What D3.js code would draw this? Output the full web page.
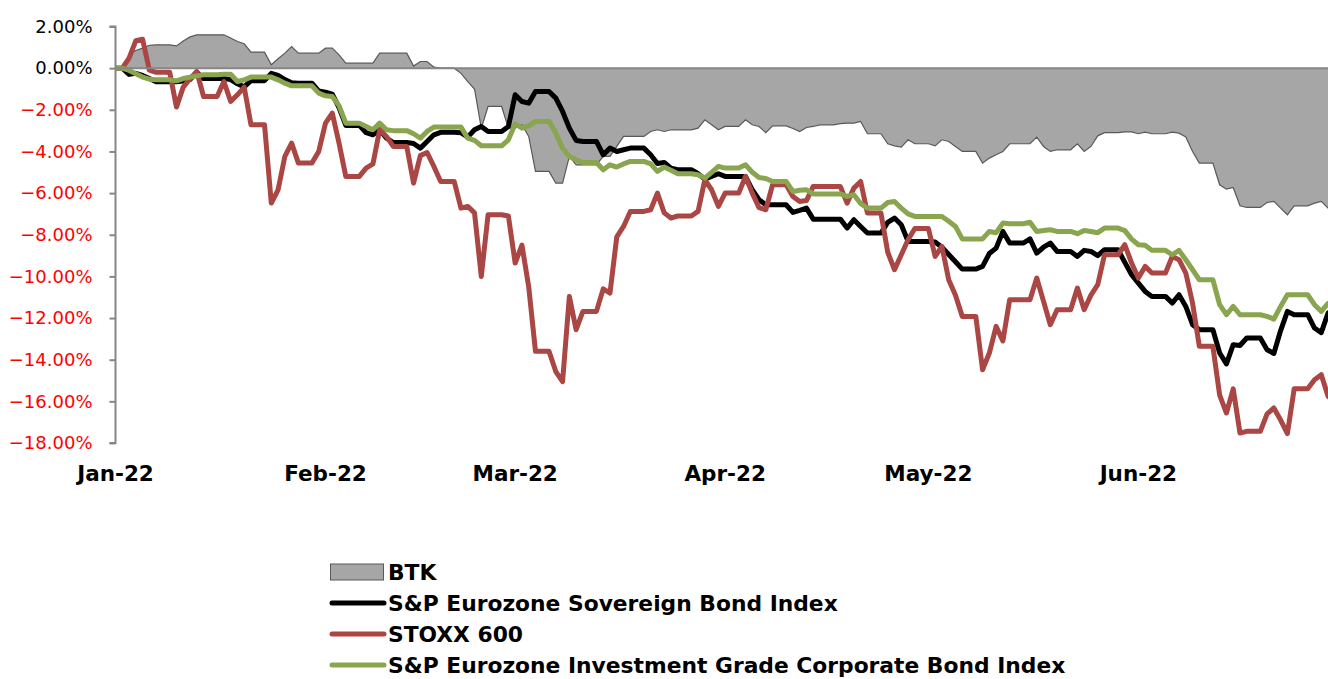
<!DOCTYPE html>
<html>
<head>
<meta charset="utf-8">
<script src="https://cdn.jsdelivr.net/npm/d3@7"></script>
<style>
body { margin: 0; background: #fff; }
svg text { font-family: "DejaVu Sans", sans-serif; }
</style>
</head>
<body>
<svg id="chart" width="1328" height="679"></svg>
<script>

// cumulative returns in %, first value = 31-Dec-2021 base, then one per weekday Jan 3 .. Jun 30
const btk = [0,
  0.64, 0.85, 0.96, 1.1, 1.12, 1.07, 1.3, 1.5, 1.6, 1.6, 1.6, 1.45, 1.28, 1.17, 0.77, 0.16, 0.45, 0.72, 1.04, 0.72, 0.72,
  0.96, 0.96, 0.64, 0.24, 0.24, 0.24, 0.72, 0.72, 0.72, 0.1, 0.32, 0.32, 0.05, 0.0, -0.25, -0.65, -1.0, -2.88, -1.84, -2.88,
  -2.88, -2.72, -3.28, -4.96, -5.52, -5.52, -4.24, -4.64, -4.64, -4.24, -4.24, -3.76, -3.28, -3.28, -3.04, -2.96, -3.04, -2.96, -2.96, -2.88, -2.48, -2.72, -2.96,
  -2.8, -2.48, -2.72, -2.8, -3.1, -2.77, -2.9, -3.04, -2.85, -2.8, -2.72, -2.66, -2.64, -2.64, -2.56, -3.15, -3.63, -3.73, -3.79, -3.44, -3.63,
  -3.73, -3.44, -3.52, -3.76, -4.0, -4.56, -4.32, -4.16, -4.0, -3.63, -3.63, -3.31, -3.76, -4.0, -3.92, -3.63, -4.0, -3.76, -3.25, -3.1, -3.06, -3.06,
  -3.15, -3.07, -3.15, -3.07, -3.12, -3.3, -4.0, -4.56, -5.6, -5.81, -5.73, -6.61, -6.69, -6.45, -6.4, -6.72, -7.04, -6.61, -6.48, -6.4, -6.72, -6.7];

const sovereign = [0,
  -0.3, -0.25, -0.35, -0.5, -0.65, -0.65, -0.62, -0.55, -0.2, -0.5, -0.5, -0.55, -0.75, -0.9, -0.6, -0.25, -0.35, -0.55, -0.7, -0.72, -1.1,
  -1.15, -1.25, -1.9, -2.75, -3.1, -3.2, -2.96, -3.36, -3.57, -3.62, -3.84, -3.52, -3.2, -3.08, -3.1, -3.31, -2.96, -2.8, -3.04, -2.8,
  -1.28, -1.6, -1.68, -1.12, -1.44, -2.08, -2.88, -3.47, -3.52, -4.16, -3.84, -4.0, -3.92, -3.84, -4.16, -4.58, -4.53, -4.8, -4.88, -5.07, -5.33, -5.2, -5.07,
  -5.2, -5.2, -5.84, -6.32, -6.56, -6.56, -6.93, -6.83, -6.72, -7.25, -7.25, -7.25, -7.68, -7.28, -7.6, -7.92, -7.41, -7.2, -7.52, -8.32, -8.32,
  -8.35, -8.6, -8.95, -9.3, -9.65, -9.52, -8.9, -8.64, -7.84, -8.4, -8.2, -8.88, -8.6, -8.4, -8.8, -9.04, -8.75, -8.8, -9.0, -8.72, -9.33, -9.92,
  -10.32, -10.72, -10.96, -11.28, -10.88, -11.44, -12.32, -12.56, -13.68, -14.2, -13.28, -13.32, -12.96, -13.52, -13.7, -12.6, -11.68, -11.84, -12.48, -12.7, -11.76, -11.5];

const stoxx = [0,
  0.48, 1.32, 1.39, -0.1, -0.2, -1.87, -0.91, -0.51, -0.16, -1.36, -0.64, -1.6, -1.28, -0.91, -2.72, -6.48, -5.84, -4.24, -3.6, -4.56, -4.0,
  -2.64, -2.16, -3.6, -5.2, -4.8, -4.6, -2.96, -3.28, -3.76, -5.52, -4.2, -4.05, -4.72, -5.44, -6.72, -6.64, -6.95, -10.0, -7.04, -7.1,
  -9.36, -8.5, -10.5, -13.6, -14.57, -15.05, -10.96, -12.56, -11.68, -10.6, -10.8, -8.1, -7.6, -6.88, -6.8, -6.0, -6.95, -7.2, -7.1, -6.88, -5.36, -5.84, -6.64,
  -6.0, -5.2, -6.0, -6.7, -6.8, -5.6, -6.16, -6.4, -6.36, -5.68, -5.68, -5.68, -6.48, -5.76, -5.44, -6.96, -8.84, -9.68, -8.96, -8.24, -7.7,
  -9.04, -8.56, -10.16, -10.9, -11.92, -14.48, -13.68, -12.4, -13.1, -11.12, -11.12, -10.08, -11.2, -12.32, -11.6, -10.56, -11.6, -10.9, -10.4, -8.96, -8.48, -9.36,
  -10.08, -9.52, -9.84, -9.04, -9.2, -9.84, -11.28, -13.36, -15.7, -16.56, -15.4, -17.52, -17.44, -16.6, -16.32, -16.9, -17.55, -15.4, -14.96, -14.72, -15.76, -16.0];

const corporate = [0,
  -0.11, -0.27, -0.43, -0.53, -0.56, -0.61, -0.5, -0.43, -0.37, -0.32, -0.29, -0.29, -0.64, -0.56, -0.43, -0.43, -0.56, -0.72, -0.85, -0.85, -1.2,
  -1.33, -1.36, -1.8, -2.64, -2.8, -2.96, -2.64, -2.96, -3.0, -3.15, -3.36, -3.04, -2.83, -2.83, -2.83, -3.36, -3.47, -3.73, -3.73, -3.44,
  -2.67, -2.88, -2.77, -2.56, -3.12, -3.84, -4.24, -4.4, -4.53, -4.88, -4.64, -4.75, -4.6, -4.48, -4.6, -4.96, -4.75, -4.9, -5.07, -5.12, -5.28, -5.0, -4.72,
  -4.8, -4.64, -5.0, -5.25, -5.3, -5.44, -5.92, -5.86, -5.84, -6.04, -6.04, -6.04, -6.16, -6.08, -6.5, -6.72, -6.45, -6.4, -6.72, -7.0, -7.12,
  -7.12, -7.12, -7.35, -7.6, -8.2, -8.2, -7.84, -7.9, -7.44, -7.47, -7.4, -7.84, -7.8, -7.76, -7.84, -7.95, -7.8, -7.84, -7.9, -7.68, -7.8, -8.21,
  -8.48, -8.5, -8.75, -8.96, -8.75, -9.2, -9.68, -10.16, -11.36, -11.84, -11.44, -11.84, -11.84, -11.92, -12.05, -11.44, -10.88, -10.88, -11.36, -11.68, -11.3, -11.2];

const yTicks = [2, 0, -2, -4, -6, -8, -10, -12, -14, -16, -18];
const monthTicks = [0, 1, 2, 3, 4, 5].map(m => new Date(2022, m, 1));

const legendItems = [
  {name: "BTK", type: "area"},
  {name: "S&P Eurozone Sovereign Bond Index", type: "line", color: "#000000"},
  {name: "STOXX 600", type: "line", color: "#aa4643"},
  {name: "S&P Eurozone Investment Grade Corporate Bond Index", type: "line", color: "#89a54e"}
];

// trading days: the base day, then every weekday
let dates = [new Date(2021, 11, 31)];
for (let d = new Date(2022, 0, 3); d <= new Date(2022, 5, 30); d.setDate(d.getDate() + 1)) {
  if (d.getDay() != 0 && d.getDay() != 6) dates.push(new Date(d));
}

// the source series are calendar daily, weekends keep friday's close
function toPoints(values) {
  let pts = [];
  values.forEach((v, i) => {
    pts.push({date: dates[i], v: v});
    let next = dates[i + 1];
    if (next) {
      let dayBefore = d3.timeDay.offset(next, -1);
      if (dayBefore > dates[i]) pts.push({date: dayBefore, v: v});
    }
  });
  return pts;
}

const svg = d3.select('#chart');

const x = d3.scaleTime()
  .domain([new Date(2022, 0, 1), new Date(2022, 6, 1)])
  .range([115.5, 115.5 + 181 * 6.774]);

const y = d3.scaleLinear()
  .domain([-18, 2])
  .range([443, 26.5]);

svg.append('clipPath').attr('id', 'plotClip')
  .append('rect')
  .attr('x', x.range()[0]).attr('y', 0)
  .attr('width', 1328 - x.range()[0]).attr('height', 679);

const plot = svg.append('g').attr('clip-path', 'url(#plotClip)');

// BTK as a shaded area
let btkPts = toPoints(btk);
plot.append('path')
  .datum(btkPts)
  .attr('fill', '#a6a6a6')
  .attr('d', d3.area().x(d => x(d.date)).y0(y(0)).y1(d => y(d.v)));
plot.append('path')
  .datum(btkPts)
  .attr('fill', 'none')
  .attr('stroke', '#595959')
  .attr('stroke-width', 1.2)
  .attr('d', d3.line().x(d => x(d.date)).y(d => y(d.v)));

// y axis on the left, zero line across
const yAxis = svg.append('g')
  .attr('transform', `translate(${x.range()[0]},0)`)
  .call(d3.axisLeft(y).tickValues(yTicks).tickSize(6).tickPadding(17)
    .tickFormat(d => d3.format('.2f')(d) + '%'));
yAxis.select('.domain').attr('stroke', '#868686').attr('stroke-width', 2)
  .attr('d', `M-6,${y(2)}H0V${y(-18)}H-6`);
yAxis.selectAll('.tick line').attr('stroke', '#868686').attr('stroke-width', 2);
yAxis.selectAll('.tick text')
  .attr('font-size', 18)
  .attr('font-family', '"DejaVu Sans Condensed", "DejaVu Sans", sans-serif')
  .attr('fill', d => d < 0 ? '#ff0000' : '#000000');

svg.append('line')
  .attr('x1', x.range()[0]).attr('x2', 1328)
  .attr('y1', y(0)).attr('y2', y(0))
  .attr('stroke', '#868686').attr('stroke-width', 2);

// month labels along the bottom
svg.append('g').selectAll('text')
  .data(monthTicks)
  .join('text')
  .attr('x', d => x(d))
  .attr('y', 481)
  .attr('text-anchor', 'middle')
  .attr('font-size', 21.5)
  .attr('font-weight', 'bold')
  .text(d => d3.timeFormat('%b-%y')(d));

// the three lines
const line = d3.line().x(d => x(d.date)).y(d => y(d.v));
const lineSeries = [
  {values: sovereign, color: '#000000'},
  {values: stoxx, color: '#aa4643'},
  {values: corporate, color: '#89a54e'}
];
plot.selectAll('path.series')
  .data(lineSeries)
  .join('path')
  .attr('class', 'series')
  .attr('fill', 'none')
  .attr('stroke', d => d.color)
  .attr('stroke-width', 5)
  .attr('stroke-linejoin', 'round')
  .attr('stroke-linecap', 'round')
  .attr('d', d => line(toPoints(d.values)));

// legend
const legend = svg.append('g').attr('transform', 'translate(330,572)');
const rows = legend.selectAll('g')
  .data(legendItems)
  .join('g')
  .attr('transform', (d, i) => `translate(0,${i * 31})`);

rows.filter(d => d.type == 'area').append('rect')
  .attr('x', 0.5).attr('y', -8).attr('width', 53).attr('height', 16)
  .attr('fill', '#a6a6a6').attr('stroke', '#595959').attr('stroke-width', 1);
rows.filter(d => d.type == 'line').append('line')
  .attr('x1', 2).attr('x2', 54).attr('y1', 0).attr('y2', 0)
  .attr('stroke', d => d.color).attr('stroke-width', 5).attr('stroke-linecap', 'round');
rows.append('text')
  .attr('x', 58).attr('y', 0)
  .attr('dy', '0.36em')
  .attr('font-size', 21.8)
  .attr('font-weight', 'bold')
  .text(d => d.name);

</script>
</body>
</html>
